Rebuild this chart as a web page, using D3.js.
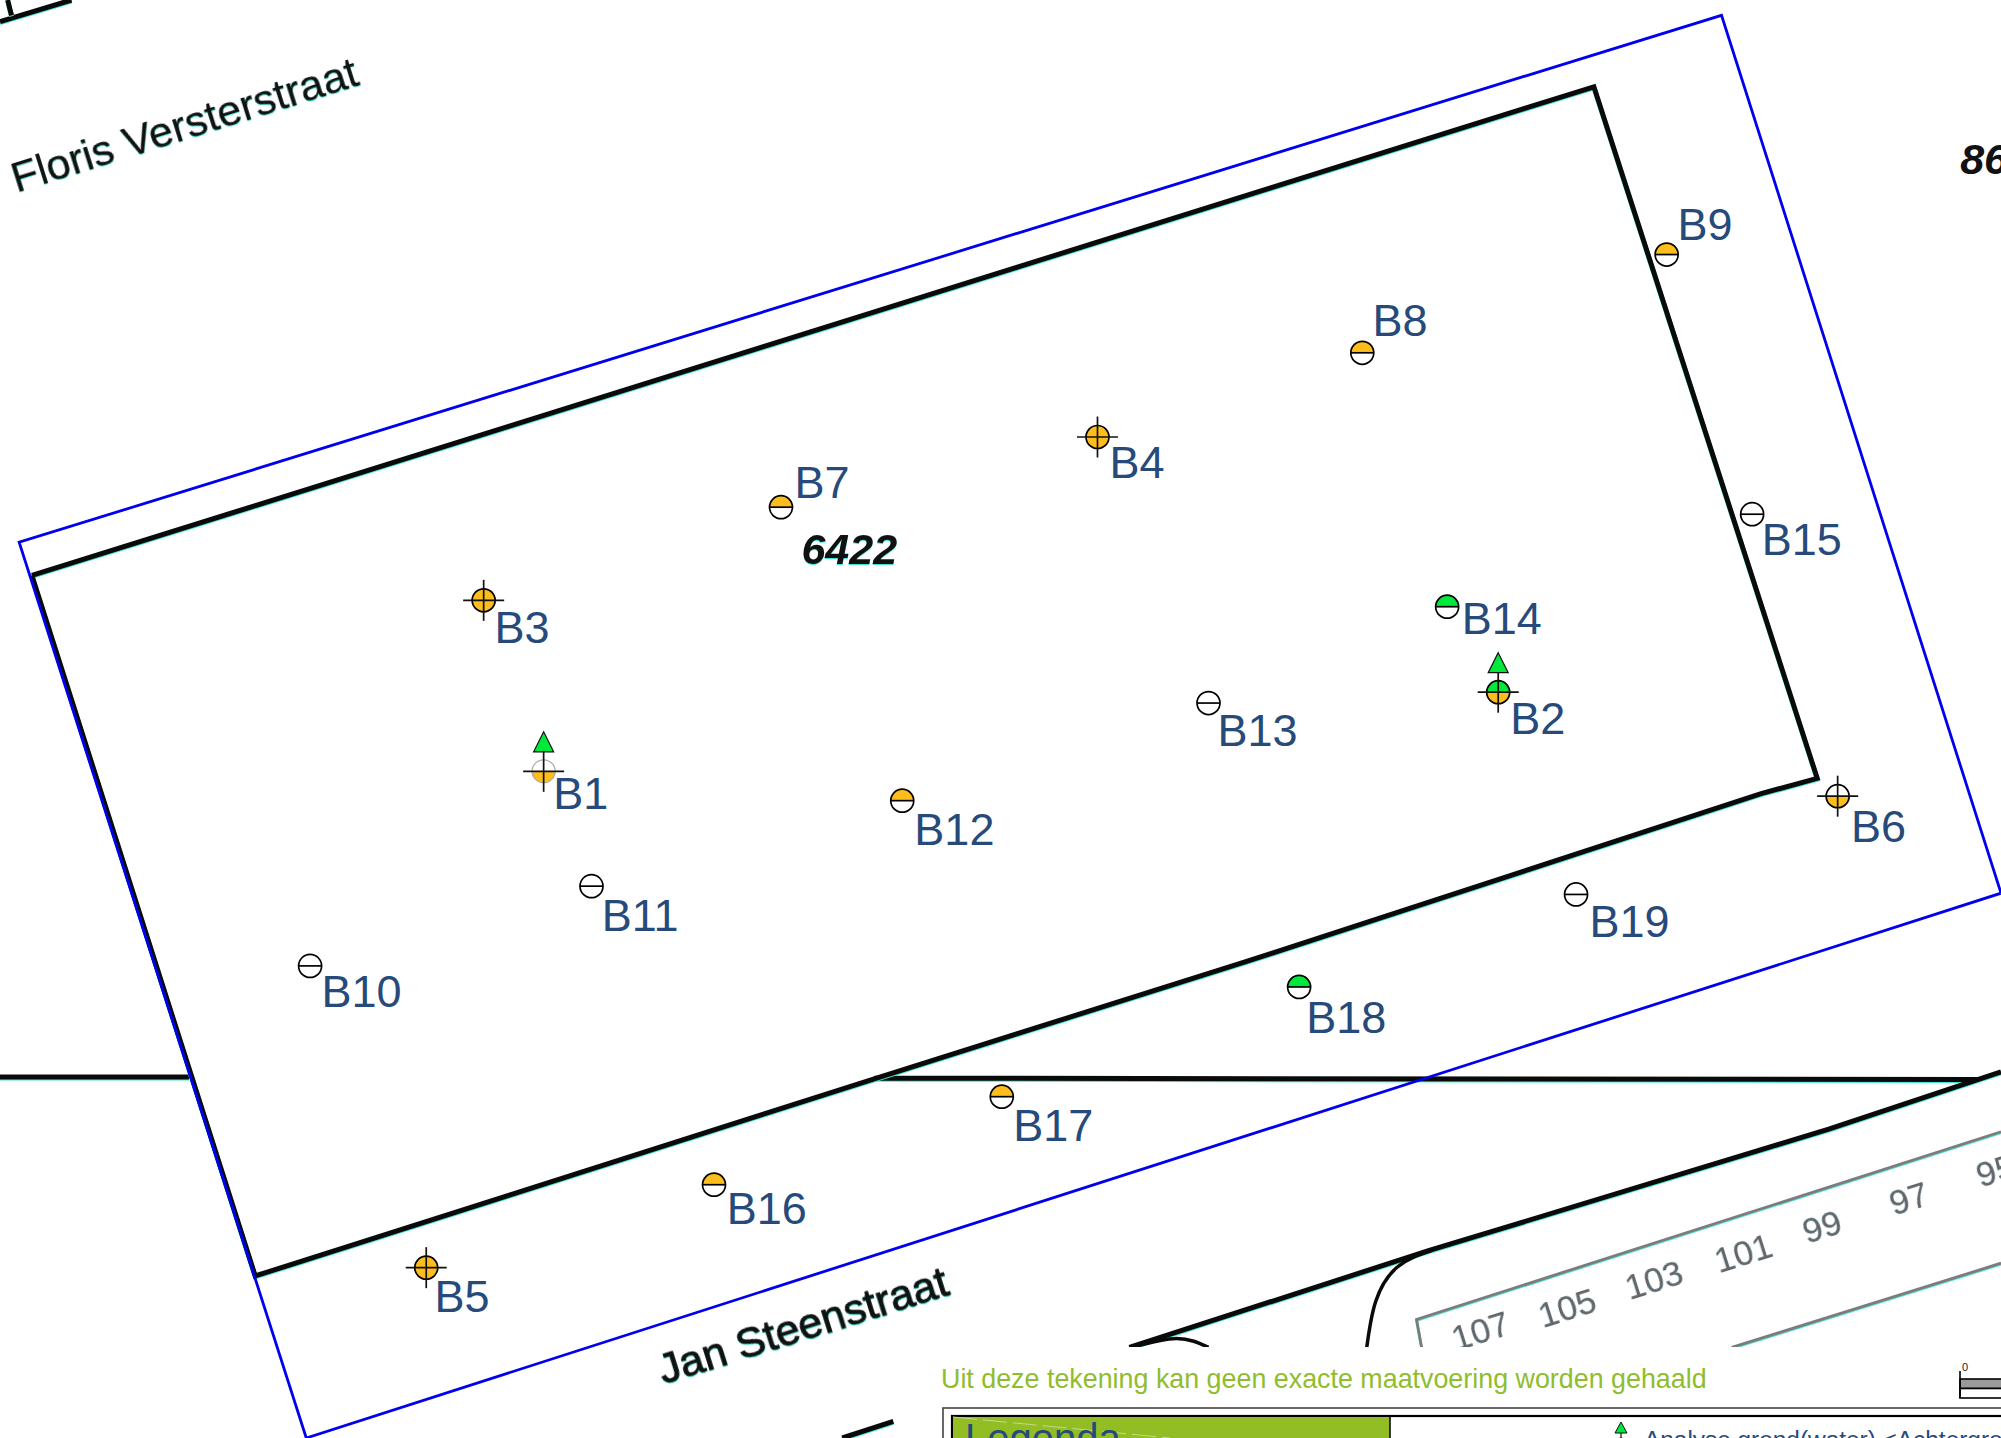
<!DOCTYPE html>
<html lang="nl">
  <head>
    <meta charset="utf-8">
    <script type="text/javascript" src="https://cdn.jsdelivr.net/npm/d3@7"></script>
    <style>
      html, body { margin: 0; padding: 0; background: #fff; overflow: hidden; }
      svg { display: block; }
      text { font-family: "Liberation Sans", Arial, sans-serif; }
    </style>
  </head>
  <body>
    <svg id="map"></svg>
  </body>
  <script type="text/javascript">

    // boreholes, in map units
    var names   = ["B1","B2","B3","B4","B5","B6","B7","B8","B9","B10","B11","B12","B13","B14","B15","B16","B17","B18","B19"];
    var pointX  = [426,1174,379,860,334,1440,612,1067.5,1306,243,463.5,707,947,1134,1373,559.5,785,1018,1235];
    var pointY  = [604.5,542.5,470.5,342.5,993.5,624,397.5,276.5,199.5,757,694.5,627.5,551,475.5,403,928.5,859.5,773.5,701];
    var labelX  = [433.5,1183.5,387.5,869.5,340.5,1450.5,622.5,1075.5,1314.5,252,471.5,716.5,954,1145.5,1380.5,569.5,794,1023.5,1245.5];
    var labelY  = [634,575,504,374.5,1028,660,390,263,188,789,729.5,662,584.5,497,435,959,894,809.5,734];
    var topHalf = ["none","green","orange","orange","orange","none","orange","orange","orange","none","none","orange","none","green","none","orange","orange","green","none"];
    var botHalf = ["orange","orange","orange","orange","orange","orange","none","none","none","none","none","none","none","none","none","none","none","none","none"];
    var crossed = ["B1","B2","B3","B4","B5","B6"];
    var analysed = ["B1","B2"];
    var faded = ["B1"];

    // kadaster lines
    var parcel = [[25,451],[1249,68],[1424,610],[1380,622],[1000,746],[975,754],[690,844],[200,1000],[25,451]];
    var frame  = [[240,1127],[15,425],[1349,12],[1568,700],[240,1127]];
    var blackLines = [
      [[0,844],[148,844]],
      [[685,845],[1550,846]],
      [[885,1056],[1120,980],[1433,885],[1568,840]],
      [[660,1127],[700,1114]],
      [[0,17],[56,0]],
      [[6,0],[9,12]]
    ];
    var blackCurves = [
      [[1122,980],[1095,993],[1078,1020],[1071,1056]],
      [[887,1056],[922,1049],[947,1056]]
    ];
    var greyLines = [
      [[1114,1056],[1110,1034],[1568,887]],
      [[1357,1056],[1568,990]]
    ];

    // street numbers
    var houseNumbers = ["107","105","103","101","99","97","95"];
    var houseX = [1141,1209,1277,1347,1416,1484,1552];
    var houseY = [1059,1041,1019,998,975,953,931];

    var streets = ["Floris Versterstraat","Jan Steenstraat"];
    var streetX = [13,520];
    var streetY = [151,1085];

    var parcelNumbers = ["6422","86"];
    var parcelNumX = [628,1536];
    var parcelNumY = [442,136];

    var width = 2001;
    var height = 1438;
    var angle = -17.4;

    var x = d3.scaleLinear().domain([0,1568]).range([0,width]);
    var y = d3.scaleLinear().domain([0,1127]).range([0,height]);
    var fillColor = d3.scaleOrdinal().domain(["none","orange","green"]).range(["#ffffff","#fdbd1c","#00e83a"]);

    var svg = d3.select("#map").attr("width",width).attr("height",height);

    var line = d3.line().x(function(d){ return x(d[0]); }).y(function(d){ return y(d[1]); });
    var curve = d3.line().x(function(d){ return x(d[0]); }).y(function(d){ return y(d[1]); }).curve(d3.curveNatural);
    var shadow = "drop-shadow(0.8px 1px 0 #3fe6d0)";

    var base = svg.append("g");

    base.selectAll("path.grey").data(greyLines).enter().append("path")
      .attr("class","grey")
      .attr("d",line)
      .attr("fill","none")
      .attr("stroke","#7f7b7d")
      .attr("stroke-width",2.8)
      .style("filter",shadow);

    base.selectAll("path.black").data(blackLines).enter().append("path")
      .attr("class","black")
      .attr("d",line)
      .attr("fill","none")
      .attr("stroke","#0a0a0a")
      .attr("stroke-width",5)
      .style("filter",shadow);

    base.selectAll("path.curve").data(blackCurves).enter().append("path")
      .attr("class","curve")
      .attr("d",curve)
      .attr("fill","none")
      .attr("stroke","#0a0a0a")
      .attr("stroke-width",3.5);

    base.append("path")
      .attr("d",line(parcel))
      .attr("fill","none")
      .attr("stroke","#0a0a0a")
      .attr("stroke-width",5)
      .attr("stroke-linejoin","miter")
      .style("filter",shadow);

    base.append("path")
      .attr("d",line(frame))
      .attr("fill","none")
      .attr("stroke","#0000ee")
      .attr("stroke-width",2.8);

    base.selectAll("text.street").data(streets).enter().append("text")
      .attr("class","street")
      .text(function(d){ return d; })
      .attr("transform",function(d,i){ return "translate("+x(streetX[i])+","+y(streetY[i])+") rotate("+angle+")"; })
      .attr("font-size",43)
      .attr("fill","#111")
      .attr("stroke","#111")
      .attr("stroke-width",function(d,i){ return i==1 ? 0.9 : 0.2; })
      .style("filter",shadow);

    base.selectAll("text.house").data(houseNumbers).enter().append("text")
      .attr("class","house")
      .text(function(d){ return d; })
      .attr("transform",function(d,i){ return "translate("+x(houseX[i])+","+y(houseY[i])+") rotate("+angle+")"; })
      .attr("font-size",35)
      .attr("fill","#66636a")
      .style("filter","drop-shadow(0.5px 0.8px 0 #5fe6d6)");

    base.selectAll("text.parcel").data(parcelNumbers).enter().append("text")
      .attr("class","parcel")
      .text(function(d){ return d; })
      .attr("x",function(d,i){ return x(parcelNumX[i]); })
      .attr("y",function(d,i){ return y(parcelNumY[i]); })
      .attr("font-size",43)
      .attr("font-style","italic")
      .attr("font-weight","bold")
      .attr("fill","#111")
      .style("filter",function(d,i){ return i==0 ? shadow : "none"; });

    // boreholes
    var halfArc = d3.arc().innerRadius(0).outerRadius(11.5);
    var marks = svg.selectAll("g.bore").data(names).enter().append("g")
      .attr("class","bore")
      .attr("transform",function(d,i){ return "translate("+x(pointX[i])+","+y(pointY[i])+")"; });

    marks.append("path")
      .attr("d",halfArc({startAngle:-Math.PI/2,endAngle:Math.PI/2}))
      .attr("fill",function(d,i){ return fillColor(topHalf[i]); });

    marks.append("path")
      .attr("d",halfArc({startAngle:Math.PI/2,endAngle:Math.PI*1.5}))
      .attr("fill",function(d,i){ return fillColor(botHalf[i]); });

    marks.append("circle")
      .attr("r",11.5)
      .attr("fill","none")
      .attr("stroke",function(d){ return faded.indexOf(d)>=0 ? "#aaa" : "#000"; })
      .attr("stroke-width",function(d){ return faded.indexOf(d)>=0 ? 1.2 : 1.7; });

    marks.filter(function(d){ return crossed.indexOf(d)<0; }).append("line")
      .attr("x1",-11.5).attr("x2",11.5)
      .attr("stroke","#000").attr("stroke-width",1.7);

    var crossMarks = marks.filter(function(d){ return crossed.indexOf(d)>=0; });
    crossMarks.append("line")
      .attr("x1",-20.5).attr("x2",20.5)
      .attr("stroke","#111").attr("stroke-width",1.7);
    crossMarks.append("line")
      .attr("y1",-20.5).attr("y2",20.5)
      .attr("stroke","#111").attr("stroke-width",1.7);

    marks.filter(function(d){ return analysed.indexOf(d)>=0; }).append("path")
      .attr("d","M0,-39.5L10,-19.5L-10,-19.5Z")
      .attr("fill","#00e83a")
      .attr("stroke","#111")
      .attr("stroke-width",1.2);

    svg.selectAll("text.label").data(names).enter().append("text")
      .attr("class","label")
      .text(function(d){ return d; })
      .attr("x",function(d,i){ return x(labelX[i]); })
      .attr("y",function(d,i){ return y(labelY[i]); })
      .attr("font-size",45)
      .attr("fill","#264a7a");

    // legend block along the bottom edge
    var legend = svg.append("g");
    legend.append("rect")
      .attr("x",930).attr("y",1347).attr("width",1071).attr("height",91)
      .attr("fill","#fff");

    legend.append("text")
      .text("Uit deze tekening kan geen exacte maatvoering worden gehaald")
      .attr("x",941).attr("y",1388)
      .attr("font-size",26.85)
      .attr("fill","#8fbd2e");

    legend.append("rect")
      .attr("x",943).attr("y",1408).attr("width",1070).attr("height",40)
      .attr("fill","#fff")
      .attr("stroke","#444")
      .attr("stroke-width",1.6);

    legend.append("rect")
      .attr("x",952).attr("y",1416).attr("width",1070).attr("height",40)
      .attr("fill","#fff")
      .attr("stroke","#000")
      .attr("stroke-width",2.2);

    legend.append("rect")
      .attr("x",953).attr("y",1417).attr("width",437).attr("height",30)
      .attr("fill","#92bd25");

    legend.append("line")
      .attr("x1",953).attr("x2",1170).attr("y1",1417).attr("y2",1438)
      .attr("stroke","#c4dc86").attr("stroke-width",1).attr("stroke-dasharray","24 6");

    legend.append("line")
      .attr("x1",1390).attr("x2",1390).attr("y1",1417).attr("y2",1438)
      .attr("stroke","#000").attr("stroke-width",1.5);

    legend.append("text")
      .text("Legenda")
      .attr("x",965).attr("y",1452)
      .attr("font-size",40)
      .attr("fill","#264a7a");

    legend.append("circle")
      .attr("cx",1621).attr("cy",1446).attr("r",8)
      .attr("fill","#00e83a").attr("stroke","#111").attr("stroke-width",1);

    legend.append("line")
      .attr("x1",1621).attr("x2",1621).attr("y1",1432).attr("y2",1438)
      .attr("stroke","#111").attr("stroke-width",1.2);

    legend.append("path")
      .attr("d","M1621,1422L1627,1433L1615,1433Z")
      .attr("fill","#00e83a")
      .attr("stroke","#111")
      .attr("stroke-width",1);

    legend.append("text")
      .text("Analyse grond(water) <Achtergrondwaarde")
      .attr("x",1644).attr("y",1448)
      .attr("font-size",24.4)
      .attr("fill","#264a7a");

    // scale bar, runs off the page
    legend.append("rect")
      .attr("x",1960).attr("y",1379).attr("width",60).attr("height",9.5)
      .attr("fill","#9a9a9a").attr("stroke","#000").attr("stroke-width",1.6);
    legend.append("rect")
      .attr("x",1960).attr("y",1388.5).attr("width",60).attr("height",9.5)
      .attr("fill","#fff").attr("stroke","#000").attr("stroke-width",1.6);
    legend.append("line")
      .attr("x1",1960).attr("x2",1960).attr("y1",1371).attr("y2",1398)
      .attr("stroke","#000").attr("stroke-width",1.6);
    legend.append("text")
      .text("0")
      .attr("x",1962).attr("y",1371)
      .attr("font-size",11)
      .attr("fill","#222");

  </script>
</html>
